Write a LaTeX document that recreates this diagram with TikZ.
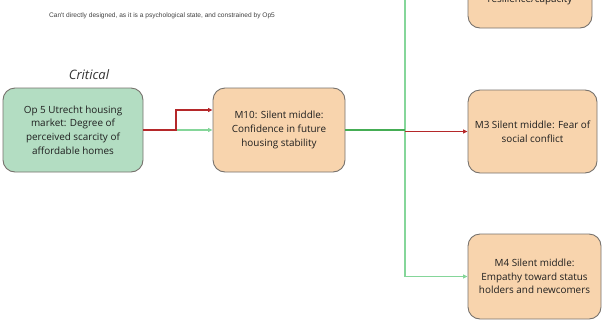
\documentclass[tikz,border=0pt]{standalone}
\usepackage{fontspec}
\setmainfont{Open Sans}
\newfontfamily\notefont{Liberation Sans}
\usetikzlibrary{arrows.meta}
\definecolor{opfill}{HTML}{B3DDC2}
\definecolor{mfill}{HTML}{F8D4AD}
\definecolor{boxline}{HTML}{77726D}
\definecolor{linkred}{HTML}{B5282A}
\definecolor{linklight}{HTML}{85D69A}
\definecolor{linkdark}{HTML}{45AD55}
\begin{document}
\begin{tikzpicture}[x=1pt,y=-1pt,
  box/.style={draw=boxline, line width=0.9pt, rounded corners=12pt, align=center,
    font=\fontsize{9.9}{13.7}\selectfont, text=black!88, inner sep=0pt},
  link/.style={line width=1.3pt, -{Triangle[length=4.5pt,width=4pt]}},
  plain/.style={line width=1.4pt}]
\useasboundingbox (0,0) rectangle (604,327);
\clip (0,0) rectangle (604,327);

% boxes
\node[box, fill=opfill, minimum width=140pt, minimum height=84pt] (op5) at (73,130)
  {Op 5 Utrecht housing\\market: Degree of\\perceived scarcity of\\affordable homes};
\node[box, fill=mfill, minimum width=132pt, minimum height=84pt] (m10) at (279,130)
  {M10: Silent middle:\\Confidence in future\\housing stability};
\node[box, fill=mfill, minimum width=124pt, minimum height=84pt] (top) at (530,-14) {};
\node[font=\fontsize{9.9}{13.7}\selectfont, text=black!88, anchor=base] (toptext) at (530,2.5)
  {resilience/capacity};
\node[box, fill=mfill, minimum width=129pt, minimum height=83pt] (m3) at (532.5,131.5)
  {M3 Silent middle: Fear of\\social conflict};
\node[box, fill=mfill, minimum width=133pt, minimum height=85pt] (m4) at (534.5,276.5)
  {M4 Silent middle:\\Empathy toward status\\holders and newcomers};

% labels
\node[font=\notefont\fontsize{6.6}{8}\selectfont, text=black!75] (note) at (162,16)
  {Can't directly designed, as it is a psychological state, and constrained by Op5};
\node[font=\itshape\fontsize{13}{15}\selectfont, text=black!80] (crit) at (89,75) {Critical};

% connectors
\coordinate (split) at (176,130);
\coordinate (hub) at (405,130);
\draw[link, linklight] (split) -- (m10.west);
\draw[link, linkred] (op5.east) -- (split) |- ([yshift=20pt]m10.west);
\draw[link, linklight] (hub) |- (top.west);
\draw[link, linklight] (hub) |- (m4.west);
\draw[plain, linkdark] (m10.east) -- (hub);
\draw[link, linkred] (hub |- m3.west) -- (m3.west);
\end{tikzpicture}
\end{document}
